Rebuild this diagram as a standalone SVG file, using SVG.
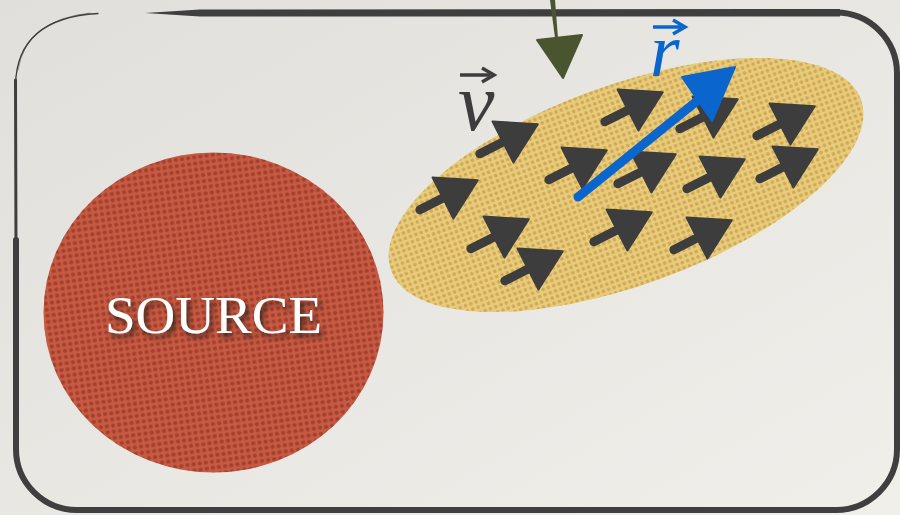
<svg xmlns="http://www.w3.org/2000/svg" width="900" height="515" viewBox="0 0 900 515">
  <style>
    .frame { fill: none; stroke: #3f3f3f; stroke-linecap: round; }
    .vec { fill: #3d3d3d; stroke: #3d3d3d; stroke-width: 2; stroke-linejoin: round; }
    .stem { stroke: #3d3d3d; stroke-width: 9; stroke-linecap: round; }
    .lbl { font-family: "Liberation Serif", "DejaVu Serif", serif; font-style: italic; }
  </style>
  <defs>
    <linearGradient id="paper" x1="0" y1="0" x2="1" y2="1">
      <stop offset="0" stop-color="#e1dfdb"/>
      <stop offset="1" stop-color="#f1efea"/>
    </linearGradient>
    <pattern id="redDots" width="6.2" height="6.2" patternUnits="userSpaceOnUse" patternTransform="rotate(-8)">
      <rect width="6.2" height="6.2" fill="#c65a43"/>
      <circle cx="3.1" cy="3.1" r="2.1" fill="#a3402e"/>
    </pattern>
    <pattern id="yelDots" width="5.6" height="5.6" patternUnits="userSpaceOnUse">
      <rect width="5.6" height="5.6" fill="#e8cc7c"/>
      <circle cx="2.8" cy="2.8" r="1.8" fill="#cfa956"/>
    </pattern>
    <filter id="shadow" x="-20%" y="-40%" width="140%" height="180%">
      <feDropShadow dx="3" dy="4" stdDeviation="2.5" flood-color="#2a1a14" flood-opacity="0.85"/>
    </filter>
    <g id="vArrow">
      <line class="stem" x1="-26" y1="0" x2="0" y2="0"/>
      <path class="vec" d="M0,-23 L39,0 L0,23 Z"/>
    </g>
  </defs>

  <rect width="900" height="515" fill="url(#paper)"/>

  <g id="frame">
    <path d="M145,13 L200,9.5 L840,9 L840,16.5 L200,16.5 Z" fill="#3f3f3f"/>
    <path class="frame" stroke-width="6" d="M836,12.5 A61,61 0 0 1 897,73.5 L897,449 A61,61 0 0 1 836,510 L77,510 A61,61 0 0 1 16,449 L16,240"/>
    <path class="frame" stroke-width="3" d="M16,250 L15.5,80"/>
    <path class="frame" stroke-width="1.3" d="M15.5,85 Q17,18 98,13.5"/>
    <path class="frame" stroke-width="0.8" opacity="0.6" d="M18,70 Q26,20 90,13"/>
  </g>

  <g id="source">
    <ellipse cx="213.5" cy="312.5" rx="170" ry="160" fill="url(#redDots)"/>
    <text x="105" y="333" font-family="'Liberation Serif', 'DejaVu Serif', serif" font-size="52" fill="#ffffff" textLength="217" lengthAdjust="spacingAndGlyphs" filter="url(#shadow)">SOURCE</text>
  </g>

  <g id="cloud">
    <ellipse cx="626" cy="185" rx="250" ry="100" transform="rotate(-20 626 185)" fill="url(#yelDots)"/>
  </g>

  <g id="velocities">
    <use href="#vArrow" transform="translate(503,142) rotate(-27)"/>
    <use href="#vArrow" transform="translate(628,110) rotate(-27)"/>
    <use href="#vArrow" transform="translate(703,117) rotate(-27)"/>
    <use href="#vArrow" transform="translate(780,124) rotate(-27)"/>
    <use href="#vArrow" transform="translate(783,167) rotate(-27)"/>
    <use href="#vArrow" transform="translate(710,177) rotate(-27)"/>
    <use href="#vArrow" transform="translate(641,172) rotate(-27)"/>
    <use href="#vArrow" transform="translate(572,168) rotate(-27)"/>
    <use href="#vArrow" transform="translate(443,198) rotate(-27)"/>
    <use href="#vArrow" transform="translate(494,237) rotate(-27)"/>
    <use href="#vArrow" transform="translate(528,269) rotate(-27)"/>
    <use href="#vArrow" transform="translate(617,230) rotate(-27)"/>
    <use href="#vArrow" transform="translate(697,238) rotate(-27)"/>
  </g>

  <g id="label-v">
    <text class="lbl" x="458" y="130" font-size="82" fill="#3d3d3d">v</text>
    <line x1="460" y1="75" x2="490" y2="75" stroke="#3d3d3d" stroke-width="3.5"/>
    <path d="M482,68 L494,75 L482,82" fill="none" stroke="#3d3d3d" stroke-width="3.5"/>
  </g>

  <g id="label-r">
    <text class="lbl" x="650" y="76" font-size="76" fill="#0a66cc">r</text>
    <line x1="653" y1="27" x2="681" y2="27" stroke="#0a66cc" stroke-width="3.5"/>
    <path d="M673,20 L685,27 L673,34" fill="none" stroke="#0a66cc" stroke-width="3.5"/>
  </g>

  <g id="connectors">
    <g id="r-vector">
      <path d="M578,197 L697,101" stroke="#0a66cc" stroke-width="9" stroke-linecap="round" fill="none"/>
      <path d="M682,77 L735,67 L712,121 Z" fill="#0a66cc" stroke="#0a66cc" stroke-width="2" stroke-linejoin="round"/>
    </g>
    <g id="pointer">
      <path d="M550,0 L555,0 L558,38 L555,38 Z" fill="#4a5530"/>
      <path d="M537,40 L582,35 L563,78 Z" fill="#4a5530" stroke="#4a5530" stroke-width="2" stroke-linejoin="round"/>
    </g>
  </g>
</svg>
